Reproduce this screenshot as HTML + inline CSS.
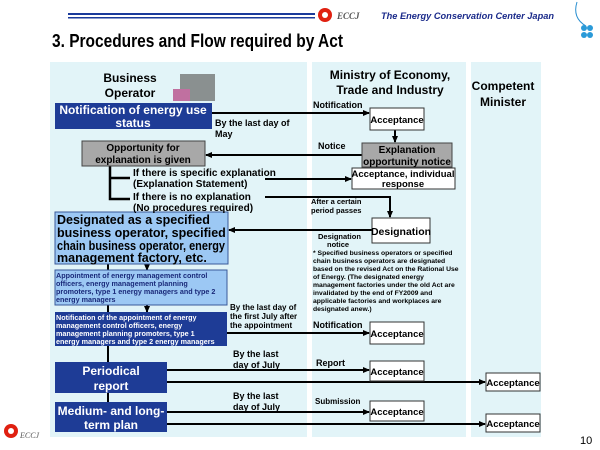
<!DOCTYPE html>
<html><head><meta charset="utf-8"><style>
body{margin:0;background:#fff}
svg{display:block;font-family:"Liberation Sans",Arial,sans-serif}
</style></head><body>
<svg width="600" height="450" viewBox="0 0 600 450" xmlns="http://www.w3.org/2000/svg">
<defs><marker id="a" markerUnits="userSpaceOnUse" markerWidth="7" markerHeight="6" refX="6" refY="3" orient="auto"><path d="M0,0 L7,3 L0,6z" fill="#000"/></marker></defs>
<!-- header -->
<rect x="68" y="13" width="247" height="2" fill="#1a3a9a"/><rect x="68" y="17" width="247" height="1.5" fill="#1a3a9a"/>
<circle cx="325" cy="15" r="7" fill="#e02010"/><circle cx="325" cy="15" r="3" fill="#fff"/>
<text x="337" y="19" font-size="9" font-style="italic" font-family="Liberation Serif,serif" fill="#555" font-weight="bold">ECCJ</text>
<text x="381" y="19" font-size="9.5" font-style="italic" font-weight="bold" fill="#1a2a8a" textLength="173" lengthAdjust="spacingAndGlyphs">The Energy Conservation Center Japan</text>
<path d="M577,2 Q572,18 586,26" stroke="#2a8fd0" fill="none" stroke-width="1"/>
<g fill="#2a9ad8"><circle cx="584" cy="28" r="3"/><circle cx="590" cy="28" r="3"/><circle cx="584" cy="35" r="3"/><circle cx="590" cy="35" r="3"/></g>
<text x="52" y="47" font-size="18" font-weight="bold" fill="#000" textLength="291" lengthAdjust="spacingAndGlyphs">3. Procedures and Flow required by Act</text>
<!-- panels -->
<rect x="50" y="62" width="257" height="375" fill="#e2f4f8"/>
<rect x="312" y="62" width="154" height="375" fill="#e2f4f8"/>
<rect x="471" y="62" width="70" height="375" fill="#e2f4f8"/>
<g font-weight="bold" font-size="12" text-anchor="middle">
<text x="130" y="82">Business</text><text x="130" y="97">Operator</text>
<text x="390" y="79">Ministry of Economy,</text><text x="390" y="94">Trade and Industry</text>
<text x="503" y="90">Competent</text><text x="503" y="106">Minister</text>
</g>
<rect x="180" y="74" width="35" height="27" fill="#8a9090"/><rect x="173" y="89" width="17" height="12" fill="#c070a0"/>
<g stroke="#000" stroke-width="2" fill="none">
<line x1="212" y1="113" x2="369" y2="113" marker-end="url(#a)"/>
<line x1="395" y1="130" x2="395" y2="142" marker-end="url(#a)"/>
<line x1="362" y1="155" x2="206" y2="155" marker-end="url(#a)"/>
<path d="M110,166 V199 H130 M110,178 H130" stroke-width="2.5"/>
<line x1="265" y1="179" x2="351" y2="179" marker-end="url(#a)"/>
<path d="M265,197 H390 V217" marker-end="url(#a)"/>
<line x1="372" y1="230" x2="229" y2="230" marker-end="url(#a)"/>
<line x1="108" y1="264" x2="108" y2="402"/>
<line x1="147" y1="264" x2="147" y2="270" marker-end="url(#a)"/>
<line x1="147" y1="305" x2="147" y2="312" marker-end="url(#a)"/>
<line x1="227" y1="333" x2="369" y2="333" marker-end="url(#a)"/>
<line x1="167" y1="370" x2="369" y2="370" marker-end="url(#a)"/>
<line x1="167" y1="382" x2="485" y2="382" marker-end="url(#a)"/>
<line x1="167" y1="412" x2="369" y2="412" marker-end="url(#a)"/>
<line x1="167" y1="424" x2="485" y2="424" marker-end="url(#a)"/>
</g>
<!-- boxes -->
<rect x="55" y="103" width="157" height="26" fill="#1e3c96"/>
<g fill="#fff" font-weight="bold" font-size="12" text-anchor="middle">
<text x="133" y="114">Notification of energy use</text><text x="133" y="127">status</text>
<rect x="55" y="362" width="112" height="31" fill="#1e3c96"/><text x="111" y="375">Periodical</text><text x="111" y="390">report</text>
<rect x="55" y="402" width="112" height="30" fill="#1e3c96"/><text x="111" y="415">Medium- and long-</text><text x="111" y="429">term plan</text>
</g>
<rect x="82" y="141" width="123" height="25" fill="#a8a8a8" stroke="#444"/>
<text x="143" y="151" font-size="10" font-weight="bold" text-anchor="middle">Opportunity for</text>
<text x="143" y="163" font-size="10" font-weight="bold" text-anchor="middle">explanation is given</text>
<rect x="362" y="143" width="90" height="24" fill="#a8a8a8" stroke="#444"/>
<text x="407" y="153" font-size="10" font-weight="bold" text-anchor="middle">Explanation</text>
<text x="407" y="165" font-size="10" font-weight="bold" text-anchor="middle">opportunity notice</text>
<g fill="#fff" stroke="#333">
<rect x="370" y="108" width="54" height="22"/><rect x="352" y="168" width="103" height="21"/>
<rect x="372" y="218" width="58" height="25"/><rect x="370" y="322" width="54" height="22"/>
<rect x="370" y="361" width="54" height="20"/><rect x="486" y="373" width="54" height="18"/>
<rect x="370" y="401" width="54" height="20"/><rect x="486" y="414" width="54" height="18"/>
</g>
<g font-size="9.5" font-weight="bold" text-anchor="middle">
<text x="397" y="123">Acceptance</text>
<text x="403" y="177">Acceptance, individual</text><text x="403" y="187">response</text>
<text x="401" y="235" font-size="10.5">Designation</text>
<text x="397" y="337">Acceptance</text><text x="397" y="375">Acceptance</text>
<text x="513" y="386">Acceptance</text><text x="397" y="415">Acceptance</text><text x="513" y="427">Acceptance</text>
</g>
<rect x="55" y="212" width="173" height="52" fill="#9cc8f4" stroke="#3a5a9a"/>
<g font-size="12.5" font-weight="bold"><text x="57" y="224">Designated as a specified</text><text x="57" y="237">business operator, specified</text><text x="57" y="250" textLength="168" lengthAdjust="spacingAndGlyphs">chain business operator, energy</text><text x="57" y="262">management factory, etc.</text></g>
<rect x="55" y="270" width="172" height="35" fill="#9cc8f4" stroke="#3a5a9a"/>
<g font-size="7.2" font-weight="bold" fill="#1a2a7a"><text x="56" y="278">Appointment of energy management control</text><text x="56" y="286">officers, energy management planning</text><text x="56" y="294">promoters, type 1 energy managers and type 2</text><text x="56" y="302">energy managers</text></g>
<rect x="55" y="312" width="172" height="34" fill="#1e3c96"/>
<g font-size="7.2" font-weight="bold" fill="#fff"><text x="56" y="320">Notification of the appointment of energy</text><text x="56" y="328">management control officers, energy</text><text x="56" y="336">management planning promoters, type 1</text><text x="56" y="344">energy managers and type 2 energy managers</text></g>
<!-- labels -->
<g font-size="9" font-weight="bold">
<text x="313" y="108">Notification</text>
<text x="215" y="126">By the last day of</text><text x="215" y="137">May</text>
<text x="318" y="149">Notice</text>
<text x="133" y="176" font-size="10">If there is specific explanation</text><text x="133" y="187" font-size="10">(Explanation Statement)</text>
<text x="133" y="200" font-size="10">If there is no explanation</text><text x="133" y="211" font-size="10">(No procedures required)</text>
<text x="311" y="204" font-size="7.5">After a certain</text><text x="311" y="213" font-size="7.5">period passes</text>
<text x="318" y="239" font-size="7.5">Designation</text><text x="327" y="247" font-size="7.5">notice</text>
<text x="230" y="310" font-size="8">By the last day of</text><text x="230" y="319" font-size="8">the first July after</text><text x="230" y="328" font-size="8">the appointment</text>
<text x="313" y="328">Notification</text>
<text x="233" y="357">By the last</text><text x="233" y="368">day of July</text>
<text x="316" y="366">Report</text>
<text x="233" y="399">By the last</text><text x="233" y="410">day of July</text>
<text x="315" y="404" font-size="8">Submission</text>
</g>
<g font-size="6.8" font-weight="bold"><text x="313" y="255">* Specified business operators or specified</text><text x="313" y="263">chain business operators are designated</text><text x="313" y="271">based on the revised Act on the Rational Use</text><text x="313" y="279">of Energy. (The designated energy</text><text x="313" y="287">management factories under the old Act are</text><text x="313" y="295">invalidated by the end of FY2009 and</text><text x="313" y="303">applicable factories and workplaces are</text><text x="313" y="311">designated anew.)</text></g>
<circle cx="11" cy="431" r="7" fill="#e02010"/><circle cx="11" cy="431" r="3" fill="#fff"/>
<text x="20" y="438" font-size="8" font-style="italic" font-family="Liberation Serif,serif" fill="#555">ECCJ</text>
<text x="580" y="444" font-size="11">10</text>
</svg>
</body></html>
